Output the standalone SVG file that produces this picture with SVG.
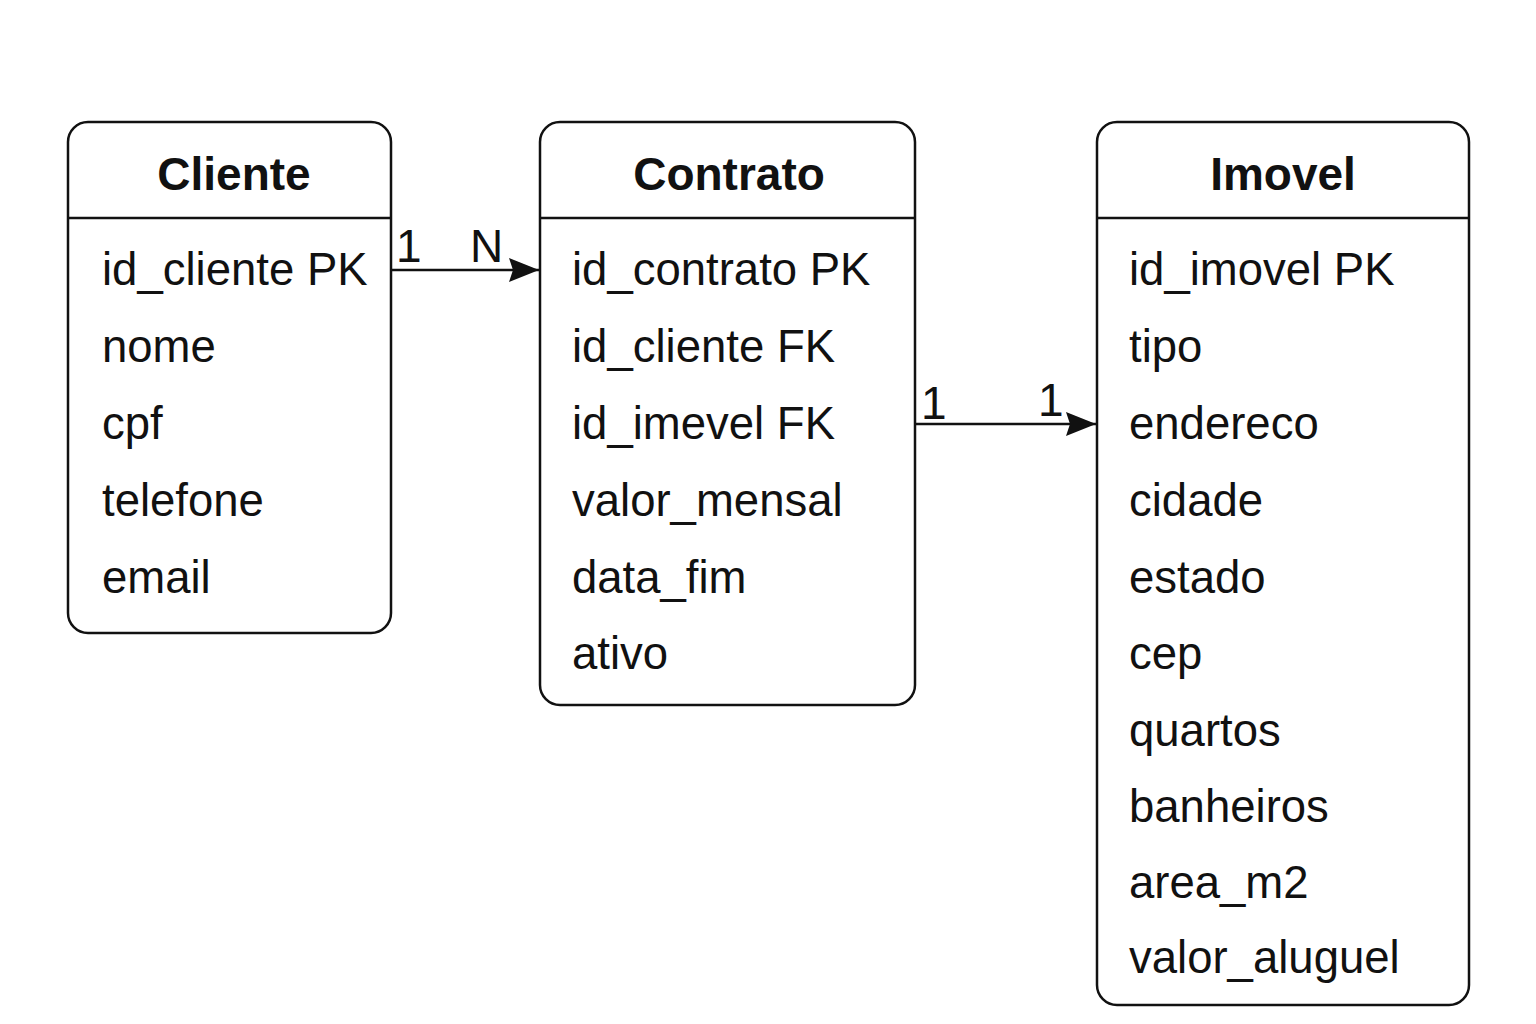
<svg xmlns="http://www.w3.org/2000/svg" width="1536" height="1024" viewBox="0 0 1536 1024">
<defs>
<style>
.box{fill:#fff;stroke:#111;stroke-width:2.5}
.sep{stroke:#111;stroke-width:2.5}
.title{font-family:"Liberation Sans",Arial,sans-serif;font-weight:bold;font-size:46px;fill:#111;text-anchor:middle}
.row{font-family:"Liberation Sans",Arial,sans-serif;font-size:45.5px;fill:#111}
.card{font-family:"Liberation Sans",Arial,sans-serif;font-size:46px;fill:#111}
.conn{stroke:#111;stroke-width:2.5;fill:none}
</style>
<marker id="arrow" viewBox="0 0 30 24" refX="30" refY="12" markerWidth="30" markerHeight="24" markerUnits="userSpaceOnUse" orient="auto">
<path d="M0,0 L30,12 L0,24 L4,12 Z" fill="#111"/>
</marker>
</defs>
<rect width="1536" height="1024" fill="#fff"/>
<g id="cliente">
<rect class="box" x="68" y="122" width="323" height="511" rx="20"/>
<line class="sep" x1="68" y1="218" x2="391" y2="218"/>
<text class="title" x="234" y="190">Cliente</text>
<text class="row" x="102" y="285">id_cliente PK</text>
<text class="row" x="102" y="362">nome</text>
<text class="row" x="102" y="439">cpf</text>
<text class="row" x="102" y="516">telefone</text>
<text class="row" x="102" y="593">email</text>
</g>
<g id="contrato">
<rect class="box" x="540" y="122" width="375" height="583" rx="20"/>
<line class="sep" x1="540" y1="218" x2="915" y2="218"/>
<text class="title" x="729" y="190">Contrato</text>
<text class="row" x="572" y="285">id_contrato PK</text>
<text class="row" x="572" y="362">id_cliente FK</text>
<text class="row" x="572" y="439">id_imevel FK</text>
<text class="row" x="572" y="516">valor_mensal</text>
<text class="row" x="572" y="593">data_fim</text>
<text class="row" x="572" y="669">ativo</text>
</g>
<g id="imovel">
<rect class="box" x="1097" y="122" width="372" height="883" rx="20"/>
<line class="sep" x1="1097" y1="218" x2="1469" y2="218"/>
<text class="title" x="1283" y="190">Imovel</text>
<text class="row" x="1129" y="285">id_imovel PK</text>
<text class="row" x="1129" y="362">tipo</text>
<text class="row" x="1129" y="439">endereco</text>
<text class="row" x="1129" y="516">cidade</text>
<text class="row" x="1129" y="593">estado</text>
<text class="row" x="1129" y="669">cep</text>
<text class="row" x="1129" y="746">quartos</text>
<text class="row" x="1129" y="822">banheiros</text>
<text class="row" x="1129" y="898">area_m2</text>
<text class="row" x="1129" y="973">valor_aluguel</text>
</g>
<g id="connectors">
<line class="conn" x1="391" y1="270" x2="539" y2="270" marker-end="url(#arrow)"/>
<text class="card" x="396" y="262">1</text>
<text class="card" x="470" y="262">N</text>
<line class="conn" x1="915" y1="424" x2="1096" y2="424" marker-end="url(#arrow)"/>
<text class="card" x="921" y="419">1</text>
<text class="card" x="1038" y="416">1</text>
</g>
</svg>
